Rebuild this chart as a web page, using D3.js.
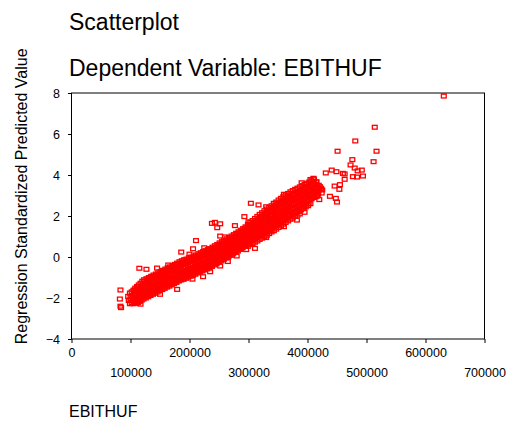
<!DOCTYPE html>
<html><head><meta charset="utf-8">
<script src="https://cdn.jsdelivr.net/npm/d3@7"></script>
<style>html,body{margin:0;padding:0;background:#fff;} svg{display:block;}</style>
</head><body>
<svg id="chart" width="508" height="423"></svg>
<script>
const titleLines = ["Scatterplot", "Dependent Variable: EBITHUF"];
const xAxisTitle = "EBITHUF";
const yAxisTitle = "Regression Standardized Predicted Value";
const xTicks = [0, 100000, 200000, 300000, 400000, 500000, 600000, 700000];
const yTicks = [-4, -2, 0, 2, 4, 6, 8];

// [EBITHUF in thousand HUF, regression standardized predicted value] - dense band
const bandCases = [
[96,-1.92],[97,-2.12],
[99,-1.76],[100,-1.94],[98,-2.12],[99,-2.28],
[102,-1.70],[103,-1.88],[101,-2.05],[102,-2.22],
[105,-1.62],[106,-1.80],[104,-1.98],[106,-2.16],[105,-2.28],
[108,-1.52],[109,-1.70],[107,-1.88],[109,-2.06],[108,-2.22],
[111,-1.44],[112,-1.62],[110,-1.80],[112,-1.98],[111,-2.14],[110,-2.26],
[114,-1.36],[115,-1.54],[113,-1.72],[115,-1.90],[114,-2.08],[113,-2.22],
[117,-1.28],[118,-1.46],[116,-1.64],[118,-1.82],[117,-2.00],[116,-2.16],
[120,-1.18],[121,-1.38],[119,-1.56],[121,-1.74],[120,-1.92],[119,-2.10],
[123,-1.11],[124,-1.30],[122,-1.49],[124,-1.68],[123,-1.87],[122,-2.05],
[127,-1.06],[128,-1.25],[126,-1.44],[128,-1.63],[127,-1.82],[126,-2.00],
[131,-1.00],[132,-1.19],[130,-1.38],[132,-1.57],[131,-1.76],[130,-1.94],
[135,-0.94],[136,-1.13],[134,-1.32],[136,-1.51],[135,-1.70],[134,-1.88],
[139,-0.88],[140,-1.07],[138,-1.26],[140,-1.45],[139,-1.64],[138,-1.82],
[143,-0.83],[144,-1.02],[142,-1.21],[144,-1.40],[143,-1.59],[142,-1.77],
[147,-0.77],[148,-0.96],[146,-1.15],[148,-1.34],[147,-1.53],[146,-1.71],
[151,-0.71],[152,-0.90],[150,-1.09],[152,-1.28],[151,-1.47],[150,-1.65],
[155,-0.65],[156,-0.84],[154,-1.03],[156,-1.22],[155,-1.41],[154,-1.59],
[159,-0.59],[160,-0.78],[158,-0.97],[160,-1.16],[159,-1.35],[158,-1.53],
[163,-0.53],[164,-0.72],[162,-0.91],[164,-1.10],[163,-1.29],[162,-1.47],
[167,-0.48],[168,-0.67],[166,-0.86],[168,-1.05],[167,-1.24],[166,-1.42],
[171,-0.42],[172,-0.61],[170,-0.80],[172,-0.99],[171,-1.18],[170,-1.36],
[175,-0.36],[176,-0.55],[174,-0.74],[176,-0.93],[175,-1.12],[174,-1.30],
[179,-0.30],[180,-0.49],[178,-0.68],[180,-0.87],[179,-1.06],[178,-1.24],
[183,-0.23],[184,-0.42],[182,-0.61],[184,-0.80],[183,-0.99],[182,-1.17],
[187,-0.18],[188,-0.37],[186,-0.56],[188,-0.75],[187,-0.94],[186,-1.12],
[191,-0.13],[192,-0.33],[190,-0.53],[192,-0.72],[191,-0.91],[190,-1.09],
[195,-0.10],[196,-0.29],[194,-0.48],[196,-0.67],[195,-0.86],[194,-1.04],
[199,-0.04],[200,-0.23],[198,-0.42],[200,-0.61],[199,-0.80],[198,-0.98],
[203,0.00],[204,-0.19],[202,-0.38],[204,-0.57],[203,-0.76],[202,-0.94],
[207,0.05],[208,-0.14],[206,-0.33],[208,-0.52],[207,-0.71],[206,-0.89],
[211,0.10],[212,-0.09],[210,-0.28],[212,-0.47],[211,-0.66],[210,-0.84],
[215,0.16],[216,-0.03],[214,-0.22],[216,-0.41],[215,-0.60],[214,-0.78],
[219,0.21],[220,0.02],[218,-0.17],[220,-0.36],[219,-0.55],[218,-0.73],
[223,0.26],[224,0.07],[222,-0.12],[224,-0.31],[223,-0.50],[222,-0.68],
[227,0.31],[228,0.12],[226,-0.07],[228,-0.26],[227,-0.45],[226,-0.63],
[231,0.36],[232,0.17],[230,-0.02],[232,-0.21],[231,-0.40],[230,-0.58],
[235,0.41],[236,0.22],[234,0.03],[236,-0.16],[235,-0.35],[234,-0.53],
[239,0.48],[240,0.29],[238,0.10],[240,-0.09],[239,-0.28],[238,-0.46],
[243,0.55],[244,0.36],[242,0.17],[244,-0.02],[243,-0.21],[242,-0.39],
[247,0.61],[248,0.42],[246,0.23],[248,0.04],[247,-0.15],[246,-0.33],
[251,0.69],[252,0.50],[250,0.31],[252,0.12],[251,-0.07],[250,-0.25],
[255,0.75],[256,0.56],[254,0.37],[256,0.18],[255,-0.01],[254,-0.19],
[259,0.82],[260,0.63],[258,0.44],[260,0.25],[259,0.06],[258,-0.12],
[263,0.89],[264,0.70],[262,0.51],[264,0.32],[263,0.13],[262,-0.05],
[267,0.95],[268,0.76],[266,0.57],[268,0.38],[267,0.19],[266,0.01],
[271,1.02],[272,0.83],[270,0.64],[272,0.45],[271,0.26],[270,0.08],
[275,1.09],[276,0.90],[274,0.71],[276,0.52],[275,0.33],[274,0.15],
[279,1.16],[280,0.97],[278,0.78],[280,0.59],[279,0.40],[278,0.22],
[283,1.23],[284,1.04],[282,0.85],[284,0.66],[283,0.47],[282,0.29],
[287,1.31],[288,1.12],[286,0.93],[288,0.74],[287,0.55],[286,0.37],
[291,1.39],[292,1.20],[290,1.01],[292,0.82],[291,0.63],[290,0.45],
[295,1.47],[296,1.28],[294,1.09],[296,0.90],[295,0.71],[294,0.53],
[299,1.60],[300,1.42],[298,1.24],[300,1.06],[299,0.88],[298,0.70],[299,0.52],
[303,1.68],[304,1.50],[302,1.32],[304,1.14],[303,0.96],[302,0.78],[303,0.60],
[307,1.78],[308,1.58],[306,1.40],[308,1.22],[307,1.04],[306,0.86],[307,0.66],
[311,1.88],[312,1.68],[310,1.48],[312,1.30],[311,1.10],[310,0.92],[311,0.72],
[315,1.98],[316,1.78],[314,1.58],[316,1.38],[315,1.18],[314,0.98],[315,0.78],
[319,2.08],[320,1.86],[318,1.66],[320,1.46],[319,1.26],[318,1.06],[319,0.86],
[323,2.16],[324,1.96],[322,1.74],[324,1.54],[323,1.34],[322,1.14],[323,0.92],
[327,2.26],[328,2.04],[326,1.82],[328,1.62],[327,1.42],[326,1.20],[327,1.00],
[331,2.34],[332,2.12],[330,1.90],[332,1.70],[331,1.48],[330,1.28],[331,1.06],
[335,2.42],[336,2.20],[334,1.98],[336,1.78],[335,1.56],[334,1.34],[335,1.14],
[339,2.50],[340,2.28],[338,2.06],[340,1.86],[339,1.64],[338,1.42],[339,1.22],
[343,2.60],[344,2.38],[342,2.16],[344,1.94],[343,1.72],[342,1.50],[343,1.28],
[347,2.68],[348,2.46],[346,2.24],[348,2.02],[347,1.80],[346,1.58],[347,1.36],
[351,2.78],[352,2.54],[350,2.32],[352,2.10],[351,1.88],[350,1.66],[351,1.44],
[355,2.86],[356,2.62],[354,2.40],[356,2.18],[355,1.96],[354,1.74],[355,1.52],
[359,2.94],[360,2.70],[358,2.48],[360,2.26],[359,2.04],[358,1.82],[359,1.60],
[363,3.02],[364,2.78],[362,2.56],[364,2.34],[363,2.12],[362,1.90],[363,1.68],
[367,3.10],[368,2.86],[366,2.64],[368,2.42],[367,2.20],[366,1.98],[367,1.76],
[371,3.18],[372,2.94],[370,2.72],[372,2.50],[371,2.28],[370,2.06],[371,1.84],
[375,3.24],[376,3.02],[374,2.80],[376,2.56],[375,2.34],[374,2.12],[375,1.90],
[379,3.30],[380,3.08],[378,2.86],[380,2.62],[379,2.40],[378,2.18],[379,1.98],
[383,3.36],[384,3.14],[382,2.90],[384,2.68],[383,2.46],[382,2.24],[383,2.04],
[387,3.42],[388,3.20],[386,2.96],[388,2.74],[387,2.52],[386,2.30],[387,2.10],
[391,3.48],[392,3.26],[390,3.02],[392,2.80],[391,2.58],[390,2.36],
[395,3.54],[396,3.32],[394,3.10],[396,2.88],[395,2.66],[394,2.44],
[399,3.60],[400,3.38],[398,3.16],[400,2.94],[399,2.72],[398,2.52],
[403,3.66],[404,3.44],[402,3.22],[404,3.00],[403,2.78],[402,2.60],
[407,3.72],[408,3.50],[406,3.28],[408,3.06],[407,2.84],
[411,3.80],[412,3.56],[410,3.34],[412,3.12],[411,2.90],
[415,3.66],[416,3.42],[414,3.20],[416,2.98],
[419,3.50],[420,3.28],[418,3.06],
[423,3.34],[424,3.12]
];

// further cases filling the band between the ones above
const bandCasesB = [
[107,-1.61],[107,-1.79],[108,-1.97],[107,-2.14],
[113,-1.45],[113,-1.63],[114,-1.81],[113,-1.99],[114,-2.16],
[125,-1.19],[125,-1.44],[126,-1.69],[125,-1.94],
[129,-1.13],[129,-1.38],[130,-1.63],[129,-1.88],
[133,-1.07],[133,-1.32],[134,-1.57],[133,-1.82],
[137,-1.01],[137,-1.26],[138,-1.51],[137,-1.76],
[141,-0.96],[141,-1.21],[142,-1.46],[141,-1.71],
[145,-0.90],[145,-1.15],[146,-1.40],[145,-1.65],
[149,-0.84],[149,-1.09],[150,-1.34],[149,-1.59],
[153,-0.78],[153,-1.03],[154,-1.28],[153,-1.53],
[157,-0.72],[157,-0.97],[158,-1.22],[157,-1.47],
[161,-0.66],[161,-0.91],[162,-1.16],[161,-1.41],
[165,-0.61],[165,-0.86],[166,-1.11],[165,-1.36],
[169,-0.55],[169,-0.80],[170,-1.05],[169,-1.30],
[173,-0.49],[173,-0.74],[174,-0.99],[173,-1.24],
[177,-0.43],[177,-0.68],[178,-0.93],[177,-1.18],
[181,-0.37],[181,-0.62],[182,-0.87],[181,-1.12],
[185,-0.31],[185,-0.56],[186,-0.81],[185,-1.06],
[189,-0.27],[189,-0.52],[190,-0.77],[189,-1.02],
[193,-0.23],[193,-0.48],[194,-0.73],[193,-0.98],
[197,-0.17],[197,-0.42],[198,-0.67],[197,-0.92],
[201,-0.12],[201,-0.37],[202,-0.62],[201,-0.87],
[205,-0.08],[205,-0.33],[206,-0.58],[205,-0.83],
[209,-0.03],[209,-0.28],[210,-0.53],[209,-0.78],
[213,0.03],[213,-0.22],[214,-0.47],[213,-0.72],
[217,0.08],[217,-0.17],[218,-0.42],[217,-0.67],
[221,0.13],[221,-0.12],[222,-0.37],[221,-0.62],
[225,0.18],[225,-0.07],[226,-0.32],[225,-0.57],
[229,0.23],[229,-0.02],[230,-0.27],[229,-0.52],
[233,0.28],[233,0.03],[234,-0.22],[233,-0.47],
[237,0.34],[237,0.09],[238,-0.16],[237,-0.41],
[241,0.41],[241,0.16],[242,-0.09],[241,-0.34],
[245,0.48],[245,0.23],[246,-0.02],[245,-0.27],
[249,0.55],[249,0.30],[250,0.05],[249,-0.20],
[253,0.62],[253,0.37],[254,0.12],[253,-0.13],
[257,0.68],[257,0.43],[258,0.18],[257,-0.07],
[261,0.75],[261,0.50],[262,0.25],[261,0.00],
[265,0.82],[265,0.57],[266,0.32],[265,0.07],
[269,0.88],[269,0.63],[270,0.38],[269,0.13],
[273,0.95],[273,0.70],[274,0.45],[273,0.20],
[277,1.02],[277,0.77],[278,0.52],[277,0.27],
[281,1.09],[281,0.84],[282,0.59],[281,0.34],
[285,1.17],[285,0.92],[286,0.67],[285,0.42],
[289,1.25],[289,1.00],[290,0.75],[289,0.50],
[293,1.33],[293,1.08],[294,0.83],[293,0.58],
[297,1.42],[297,1.16],[298,0.90],[297,0.64],
[301,1.50],[301,1.24],[302,0.97],[301,0.71],
[305,1.58],[305,1.32],[306,1.05],[305,0.78],
[309,1.68],[309,1.40],[310,1.12],[309,0.85],
[313,1.78],[313,1.50],[314,1.20],[313,0.92],
[317,1.88],[317,1.58],[318,1.28],[317,0.98],
[321,1.96],[321,1.66],[322,1.36],[321,1.06],
[325,2.06],[325,1.74],[326,1.44],[325,1.12],
[329,2.14],[329,1.82],[330,1.50],[329,1.18],
[333,2.22],[333,1.90],[334,1.58],[333,1.26],
[337,2.30],[337,1.98],[338,1.66],[337,1.34],
[341,2.40],[341,2.06],[342,1.74],[341,1.42],
[345,2.48],[345,2.14],[346,1.82],[345,1.50],
[349,2.56],[349,2.22],[350,1.90],[349,1.58],
[353,2.64],[353,2.30],[354,1.98],[353,1.66],
[357,2.72],[357,2.38],[358,2.06],[357,1.74],
[361,2.80],[361,2.46],[362,2.14],[361,1.82],
[365,2.88],[365,2.54],[366,2.22],[365,1.90],
[369,2.96],[369,2.62],[370,2.30],[369,1.98],
[373,3.04],[373,2.70],[374,2.36],[373,2.04],
[377,3.10],[377,2.76],[378,2.42],[377,2.10],
[381,3.16],[381,2.82],[382,2.48],[381,2.16],
[385,3.22],[385,2.88],[386,2.54],[385,2.22],
[389,3.28],[389,2.94],[390,2.62],[389,2.30],
[393,3.34],[393,3.00],[394,2.68],[393,2.36],
[397,3.40],[397,3.06],[398,2.74],[397,2.44],
[401,3.46],[401,3.12],[402,2.80],[401,2.50],
[405,3.54],[405,3.20],[406,2.88],[405,2.60],
[409,3.60],[409,3.26],[410,2.94],
[413,3.54],[413,3.24],[414,2.94],
[417,3.40],[417,3.14]
];

// scattered cases along the ragged edges of the band
const edgeCases = [
[164,-0.39],[200,0.14],[225,0.45],[260,0.98],[300,1.72],[330,2.45],[360,3.06],[390,3.62],[405,3.78],
[117,-2.30],[150,-1.82],[179,-1.58],[205,-1.08],[223,-0.96],[265,-0.22],[296,0.36],[330,0.95],[360,1.48],[395,2.18],[420,2.80]
];

// isolated cases outside the dense band
const outlierCases = [
[83,-1.61],[82,-2.05],[83,-2.40],[84,-2.47],
[115,-0.55],[127,-0.60],[145,-0.54],
[186,0.24],[206,0.40],[211,0.80],
[238,1.64],[243,1.69],[252,1.62],[247,1.43],[252,1.02],[277,1.53],
[293,1.97],[304,2.62],[317,2.54],[343,2.62],
[252,-0.44],[235,-0.72],[311,0.42],[280,0.05],[382,1.80],
[410,3.84],[415,3.67],[421,3.43],[425,3.27],[418,3.19],[423,3.35],
[431,4.10],[441,4.24],[449,4.16],[460,4.08],[463,3.79],[463,4.05],
[455,3.53],[446,3.46],[448,2.86],[450,2.68],[438,2.96],[454,3.30],
[480,4.34],[485,4.20],[492,4.24],[494,3.95],[484,3.90],[477,3.92],
[473,4.49],[476,4.75],[512,4.65],[451,5.16],[517,5.16],[481,5.66],[514,6.33],[631,7.85]
];

const FONT = "Arial, 'Liberation Sans', sans-serif";
const svg = d3.select("#chart");
const x = d3.scaleLinear().domain([0, 700000]).range([71.5, 484.5]);
const y = d3.scaleLinear().domain([-4, 8]).range([339, 93]);

// titles
svg.selectAll("text.title").data(titleLines).enter().append("text")
  .attr("class", "title")
  .attr("x", 69).attr("y", (d, i) => i === 0 ? 30 : 76)
  .attr("font-family", FONT).attr("font-size", 23).attr("fill", "#000")
  .text(d => d);

// points
const cases = bandCases.concat(bandCasesB, edgeCases, outlierCases);
svg.append("g").selectAll("rect").data(cases).enter().append("rect")
  .attr("x", d => x(d[0] * 1000) - 2.4)
  .attr("y", d => y(d[1]) - 1.9)
  .attr("width", 4.8).attr("height", 3.8)
  .attr("fill", "none").attr("stroke", "#ff0000").attr("stroke-width", 1.3);

// frame
svg.append("rect").attr("x", 71.5).attr("y", 93).attr("width", 413).attr("height", 246)
  .attr("fill", "none").attr("stroke", "#000").attr("stroke-width", 1);

// x axis
const gx = svg.append("g").attr("transform", "translate(0,339)")
  .call(d3.axisBottom(x).tickValues(xTicks).tickSize(4).tickSizeOuter(0).tickFormat(d3.format("d")));
gx.select(".domain").remove();
gx.selectAll(".tick line").attr("stroke", "#000");
gx.selectAll(".tick text")
  .attr("y", (d, i) => i % 2 === 0 ? 17.7 : 37.7).attr("dy", 0)
  .attr("font-family", FONT).attr("font-size", 12.5).attr("fill", "#000");

// y axis
const gy = svg.append("g").attr("transform", "translate(71.5,0)")
  .call(d3.axisLeft(y).tickValues(yTicks).tickSize(3.5).tickSizeOuter(0).tickFormat(d3.format("d")));
gy.select(".domain").remove();
gy.selectAll(".tick line").attr("stroke", "#000");
gy.selectAll(".tick text")
  .attr("x", -11.5).attr("dy", "0.34em")
  .attr("font-family", FONT).attr("font-size", 12.5).attr("fill", "#000");

// axis titles
svg.append("text").attr("x", 69).attr("y", 417)
  .attr("font-family", FONT).attr("font-size", 16).attr("fill", "#000")
  .text(xAxisTitle);
svg.append("text").attr("transform", "translate(27,344.3) rotate(-90)")
  .attr("font-family", FONT).attr("font-size", 16).attr("fill", "#000")
  .text(yAxisTitle);
</script>
</body></html>
